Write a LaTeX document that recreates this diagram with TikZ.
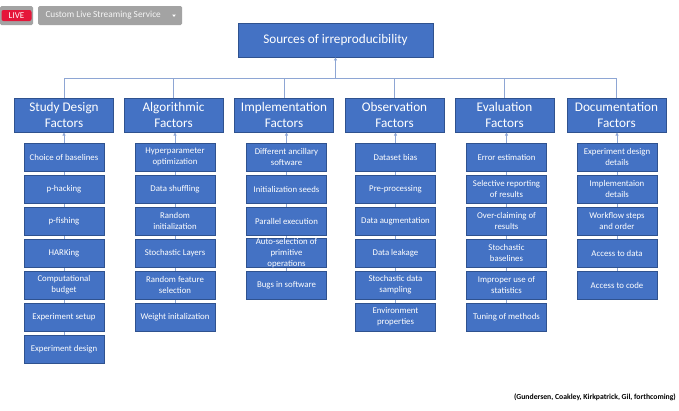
\documentclass[tikz,border=0pt]{standalone}
\usepackage{fontspec}
\setmainfont{Carlito}
\usetikzlibrary{arrows.meta}
\definecolor{boxblue}{HTML}{4472C4}
\definecolor{boxedge}{HTML}{2F528F}
\definecolor{linkblue}{HTML}{8EA6D4}
\definecolor{liveRed}{HTML}{E5163A}
\definecolor{barGrey}{HTML}{A3A3A3}
\tikzset{
  titlebox/.style={draw=boxedge, line width=0.8pt, fill=boxblue, text=white,
    minimum width=195pt, minimum height=34pt, inner sep=0pt,
    font=\fontsize{13.2}{16}\selectfont},
  catbox/.style={draw=boxedge, line width=0.8pt, fill=boxblue, text=white,
    minimum width=99pt, minimum height=34pt, inner sep=0pt, align=center,
    font=\fontsize{13.2}{16}\selectfont},
  itembox/.style={draw=boxedge, line width=0.5pt, fill=boxblue, text=white,
    minimum width=80pt, minimum height=28pt, inner sep=0pt, align=center,
    font=\fontsize{8.8}{10.7}\selectfont},
  link/.style={draw=linkblue, line width=0.9pt},
  uparrow/.style={link, -{Triangle[length=3pt,width=3pt]}},
}
\begin{document}
\begin{tikzpicture}[x=1pt, y=-1pt]
\useasboundingbox[fill=white] (0,0) rectangle (679,410);

% streaming toolbar
\fill[barGrey, rounded corners=1.5pt] (0,6) rectangle (33,25);
\node[fill=liveRed, rounded corners=2pt, text=white, inner sep=0pt,
  minimum width=30pt, minimum height=11pt,
  font=\fontsize{9}{10}\selectfont] (live) at (16.5,15.5) {LIVE};
\node[fill=barGrey, rounded corners=1.5pt, text=white!92!gray, inner sep=0pt,
  minimum width=144pt, minimum height=19pt, anchor=west,
  font=\fontsize{9.3}{11}\selectfont] (stream) at (38,15.5)
  {\hspace*{-14pt}Custom Live Streaming Service};
\coordinate (drop) at (174,15.5);
\fill[white] ([xshift=-1.8pt,yshift=1pt]drop) -- ([xshift=1.8pt,yshift=1pt]drop) -- ([yshift=-1.5pt]drop) -- cycle;

% root
\node[titlebox] (root) at (335.5,40) {Sources of irreproducibility};

% category row
\node[catbox] (c1) at (64,115)    {Study Design\\Factors};
\node[catbox] (c2) at (173.5,115) {Algorithmic\\Factors};
\node[catbox] (c3) at (284,115)   {Implementation\\Factors};
\node[catbox] (c4) at (394.5,115) {Observation\\Factors};
\node[catbox] (c5) at (504.5,115) {Evaluation\\Factors};
\node[catbox] (c6) at (616.5,115) {Documentation\\Factors};

% bus from the categories up to the root
\coordinate (busmid) at (root.south |- 0,78);
\draw[link] (c1.north) -- (c1.north |- busmid) -- (c6.north |- busmid) -- (c6.north);
\foreach \c in {c2,c3,c4,c5} \draw[link] (\c.north) -- (\c.north |- busmid);
\draw[uparrow] (busmid) -- (root.south);

% item columns: column centre, category, list of items
\foreach \cx/\cat/\items in {
  64/c1/{Choice of baselines,p-hacking,p-fishing,HARKing,Computational\\budget,Experiment setup,Experiment design},
  175/c2/{Hyperparameter\\optimization,Data shuffling,Random\\initialization,Stochastic Layers,Random feature\\selection,Weight initalization},
  286.5/c3/{Different ancillary\\software,Initialization seeds,Parallel execution,Auto-selection of\\primitive\\operations,Bugs in software},
  395.5/c4/{Dataset bias,Pre-processing,Data augmentation,Data leakage,Stochastic data\\sampling,Environment\\properties},
  506.5/c5/{Error estimation,Selective reporting\\of results,Over-claiming of\\results,Stochastic\\baselines,Improper use of\\statistics,Tuning of methods},
  617/c6/{Experiment design\\details,Implementaion\\details,Workflow steps\\and order,Access to data,Access to code}%
}{
  \foreach \t [count=\k] in \items {
    \node[itembox] (\cat-\k) at (\cx,{157+32*(\k-1)}) {\t};
    \global\let\lastk\k
  }
  \draw[uparrow] (\cat-\lastk.center) -- (\cx,132.5);
  \foreach \t [count=\k] in \items { \node[itembox] at (\cat-\k) {\t}; }
}

% citation
\node[anchor=east, inner sep=0pt, font=\bfseries\fontsize{7.7}{9}\selectfont] (cite)
  at (676,397) {(Gundersen, Coakley, Kirkpatrick, Gil, forthcoming)};
\end{tikzpicture}
\end{document}
